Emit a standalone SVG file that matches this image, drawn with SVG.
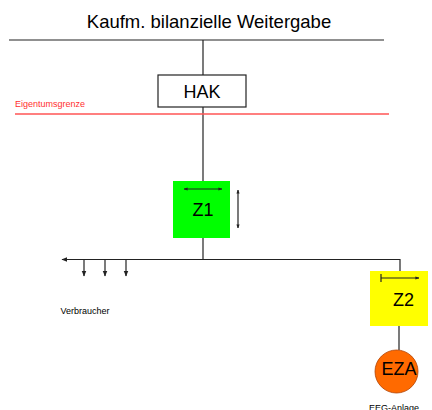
<svg xmlns="http://www.w3.org/2000/svg" width="432" height="410" viewBox="0 0 432 410">
<style>
text{font-family:"Liberation Sans",Arial,sans-serif;fill:#000}
.big{font-size:18px}
.small{font-size:9px}
.ln{stroke:#222;stroke-width:1.2;fill:none}
.ar{stroke:#222;stroke-width:1.2;fill:none}
</style>
<defs>
<marker id="ah" viewBox="0 0 10 10" refX="9" refY="5" markerWidth="4" markerHeight="4" orient="auto-start-reverse" markerUnits="userSpaceOnUse">
<path d="M0,1 L10,5 L0,9 Z" fill="#222"/>
</marker>
<marker id="ahs" viewBox="0 0 10 10" refX="9" refY="5" markerWidth="6" markerHeight="6" orient="auto-start-reverse" markerUnits="userSpaceOnUse">
<path d="M0,1 L10,5 L0,9 Z" fill="#222"/>
</marker>
</defs>
<rect width="432" height="410" fill="#fff"/>
<text class="big" x="209" y="28" text-anchor="middle" font-size="18.5" style="font-size:18.5px">Kaufm. bilanzielle Weitergabe</text>
<g id="connectors">
<line class="ln" x1="9" y1="40" x2="384" y2="40"/>
<line class="ln" x1="203" y1="40" x2="203" y2="75"/>
<line class="ln" x1="203" y1="107" x2="203" y2="181"/>
<line class="ln" x1="203" y1="238" x2="203" y2="259.5"/>
<polyline class="ln" points="62,259.5 400,259.5 400,271" marker-start="url(#ahs)"/>
<line class="ar" x1="84" y1="259.5" x2="84" y2="276" marker-end="url(#ahs)"/>
<line class="ar" x1="105" y1="259.5" x2="105" y2="276" marker-end="url(#ahs)"/>
<line class="ar" x1="126" y1="259.5" x2="126" y2="276" marker-end="url(#ahs)"/>
<line class="ln" x1="399" y1="326" x2="399" y2="350"/>
<line x1="238" y1="190" x2="238" y2="228" class="ar" marker-start="url(#ah)" marker-end="url(#ah)"/>
</g>
<g id="eigentumsgrenze">
<line x1="15" y1="114" x2="389" y2="114" stroke="#ff5555" stroke-width="1.5"/>
<text class="small" x="15" y="107" style="fill:#ff3030">Eigentumsgrenze</text>
</g>
<g id="hak">
<rect x="158" y="75" width="88" height="32" fill="#fff" stroke="#222" stroke-width="1.2"/>
<text class="big" x="202" y="97.5" text-anchor="middle">HAK</text>
</g>
<g id="z1">
<rect x="173" y="181" width="57" height="57" fill="#00ff00"/>
<line x1="184" y1="189" x2="222" y2="189" class="ar" stroke-width="1.5" marker-start="url(#ah)" marker-end="url(#ah)"/>
<text class="big" x="203" y="216" text-anchor="middle">Z1</text>
</g>
<g id="verbraucher">
<text class="small" x="60.5" y="314">Verbraucher</text>
</g>
<g id="z2">
<rect x="370" y="271" width="58" height="55" fill="#ffff00"/>
<line x1="381" y1="274" x2="381" y2="282" stroke="#222" stroke-width="1.2"/>
<line x1="381" y1="278" x2="419" y2="278" class="ar" marker-end="url(#ah)"/>
<text class="big" x="403.5" y="306" text-anchor="middle">Z2</text>
</g>
<g id="eza">
<circle cx="396.5" cy="371.5" r="21.5" fill="#ff6a00" stroke="#b04000" stroke-width="0.8"/>
<text class="big" x="399" y="375" text-anchor="middle">EZA</text>
<text class="small" x="394" y="411" text-anchor="middle">EEG-Anlage</text>
</g>
</svg>
